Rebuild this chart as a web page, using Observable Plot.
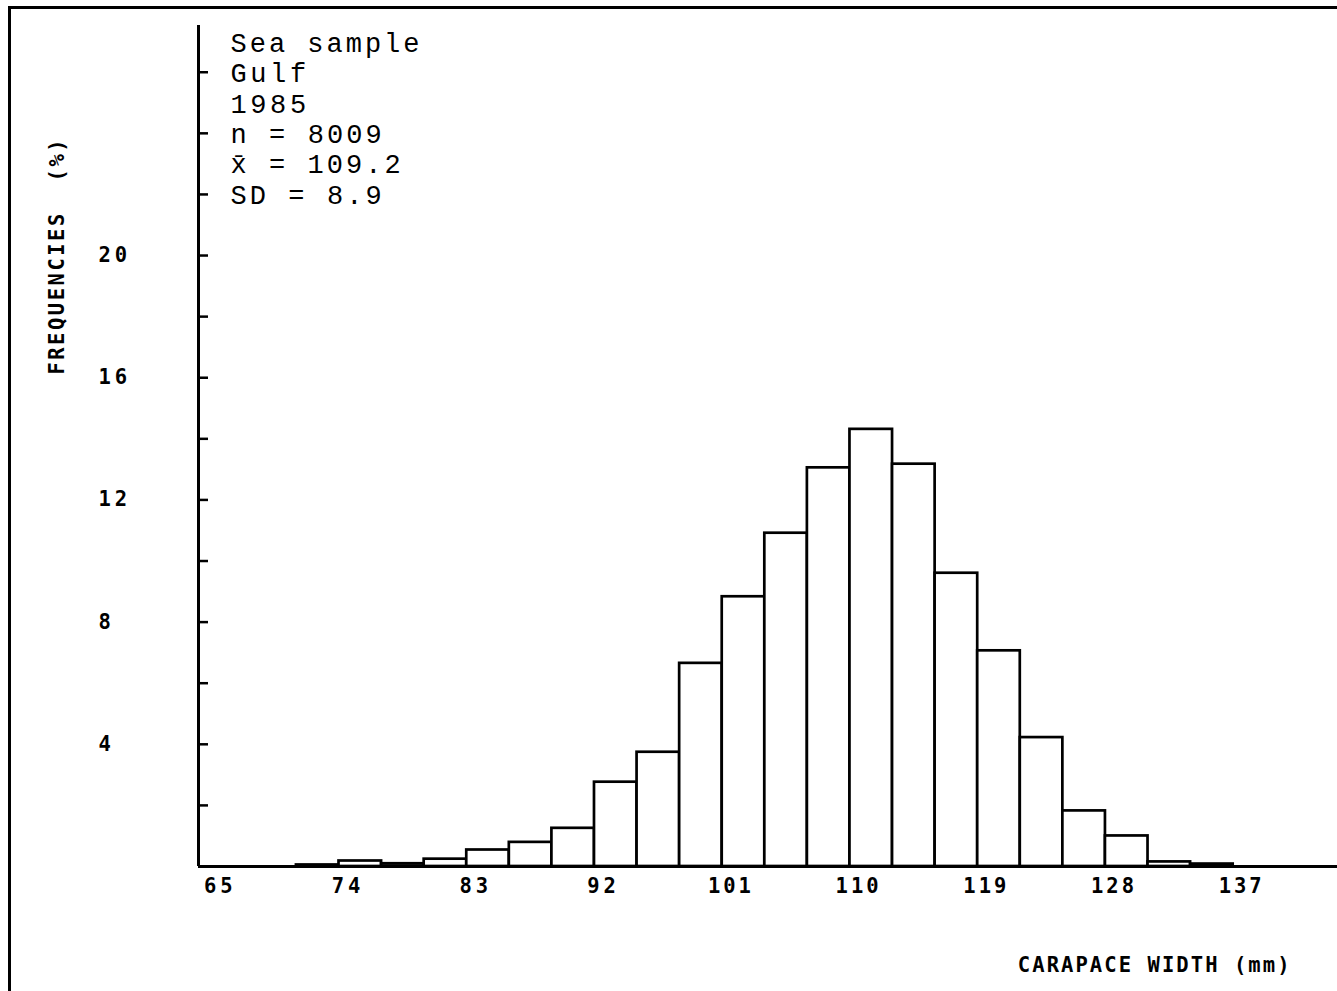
<!DOCTYPE html>
<html>
<head>
<meta charset="utf-8">
<script src="https://cdn.jsdelivr.net/npm/d3@7"></script>
<script src="https://cdn.jsdelivr.net/npm/@observablehq/plot@0.6"></script>
<style>
  html, body { margin: 0; padding: 0; background: #fff; }
  #page { position: relative; width: 1337px; height: 991px; overflow: hidden; background: #fff; }
  #border { position: absolute; left: 8px; top: 6px; right: -20px; bottom: -20px;
            border-left: 3px solid #000; border-top: 3px solid #000; }
  #chart { position: absolute; left: 0; top: 0; }
</style>
</head>
<body>
<div id="page">
  <div id="border"></div>
  <div id="chart"></div>
</div>
<script>
// Carapace width classes (3 mm wide), given by their mid-points in mm
const classMid = [72, 75, 78, 81, 84, 87, 90, 93, 96, 99, 102, 105, 108, 111, 114, 117, 120, 123, 126, 129, 132, 135];
// Relative frequency of each class, in %
const frequency = [0.05, 0.18, 0.09, 0.24, 0.54, 0.79, 1.25, 2.76, 3.74, 6.65, 8.83, 10.91, 13.05, 14.31, 13.17, 9.60, 7.06, 4.22, 1.82, 1.00, 0.15, 0.08];
const classWidth = 3;

// Axis ticks and labels
const xTickLabels = [65, 74, 83, 92, 101, 110, 119, 128, 137];
const yTickMarks = [2, 4, 6, 8, 10, 12, 14, 16, 18, 20, 22, 24, 26];
const yTickLabels = [4, 8, 12, 16, 20];
const xTitle = "CARAPACE WIDTH (mm)";
const yTitle = "FREQUENCIES  (%)";

// Sample summary printed in the upper-left corner
const statLines = ["Sea sample", "Gulf", "1985", "n = 8009", "x\u0304 = 109.2", "SD = 8.9"];

const xDomain = [63.6, 143.85];
const yDomain = [0, 27.53];

const rows = classMid.map((m, i) => ({
  lo: m - classWidth / 2,
  hi: m + classWidth / 2,
  freq: frequency[i]
}));

const plotterFont = { fontFamily: "DejaVu Sans Mono", fontSize: 20.5, fontWeight: "bold" };

const chart = Plot.plot({
  width: 1337,
  height: 991,
  marginLeft: 198,
  marginRight: 0,
  marginTop: 25,
  marginBottom: 125,
  x: { domain: xDomain },
  y: { domain: yDomain },
  style: { background: "transparent", color: "#000", overflow: "visible" },
  marks: [
    // inward tick marks on the frequency axis
    Plot.axisY({ ticks: yTickMarks, tickSize: 10, dx: 10, tickFormat: () => "", label: null, strokeWidth: 2.5 }),
    // frequency labels
    Plot.axisY({ ticks: yTickLabels, tickSize: 0, tickPadding: 100, textAnchor: "start", label: null, ...plotterFont }),
    // width labels
    Plot.axisX({ ticks: xTickLabels, tickSize: 0, tickPadding: 12, label: null, ...plotterFont }),
    // baseline
    Plot.ruleY([0], { strokeWidth: 3 }),
    // histogram bars
    Plot.rectY(rows, { x1: "lo", x2: "hi", y: "freq", fill: "white", stroke: "black", strokeWidth: 2.7 }),
    // frequency axis line
    Plot.ruleX([xDomain[0]], { strokeWidth: 3 }),
    // summary block
    Plot.text([statLines.join("\n")], {
      frameAnchor: "top-left", textAnchor: "start", lineAnchor: "top",
      dx: 32, dy: 5, lineHeight: 30.3 / 27,
      fontFamily: "Liberation Mono", fontSize: 27
    }),
    // axis titles
    Plot.text([yTitle], {
      frameAnchor: "left", rotate: -90, textAnchor: "middle", lineAnchor: "middle",
      dx: -141, dy: -189, ...plotterFont
    }),
    Plot.text([xTitle], {
      frameAnchor: "bottom-right", textAnchor: "end", lineAnchor: "middle",
      dx: -48, dy: 99, ...plotterFont
    })
  ]
});

// Wide, plotter-like character pitch: stretch the spacing of each string
// (or of each line of a multi-line string) to a fixed advance per character.
const glyphCount = s => s.replace(/[\u0300-\u036f]/g, "").length;
function setPitch(selection, pitch) {
  selection.each(function () {
    const lines = d3.select(this).selectAll("tspan");
    const targets = lines.empty() ? d3.select(this) : lines;
    targets.each(function () {
      const n = glyphCount(this.textContent);
      if (n > 0) {
        d3.select(this)
          .attr("textLength", n * pitch)
          .attr("lengthAdjust", "spacing")
          .style("white-space", "pre");
      }
    });
  });
}
const svg = d3.select(chart);
setPitch(svg.selectAll('[aria-label="y-axis tick label"] text, [aria-label="x-axis tick label"] text'), 14.3);
// text marks, in the order they are listed above: summary, y title, x title
const textGroups = svg.selectAll('g[aria-label="text"]').nodes();
setPitch(d3.select(textGroups[0]).selectAll("text"), 18.9);
setPitch(d3.select(textGroups[1]).selectAll("text"), 14.7);
setPitch(d3.select(textGroups[2]).selectAll("text"), 14.3);

document.getElementById("chart").appendChild(chart);
</script>
</body>
</html>
